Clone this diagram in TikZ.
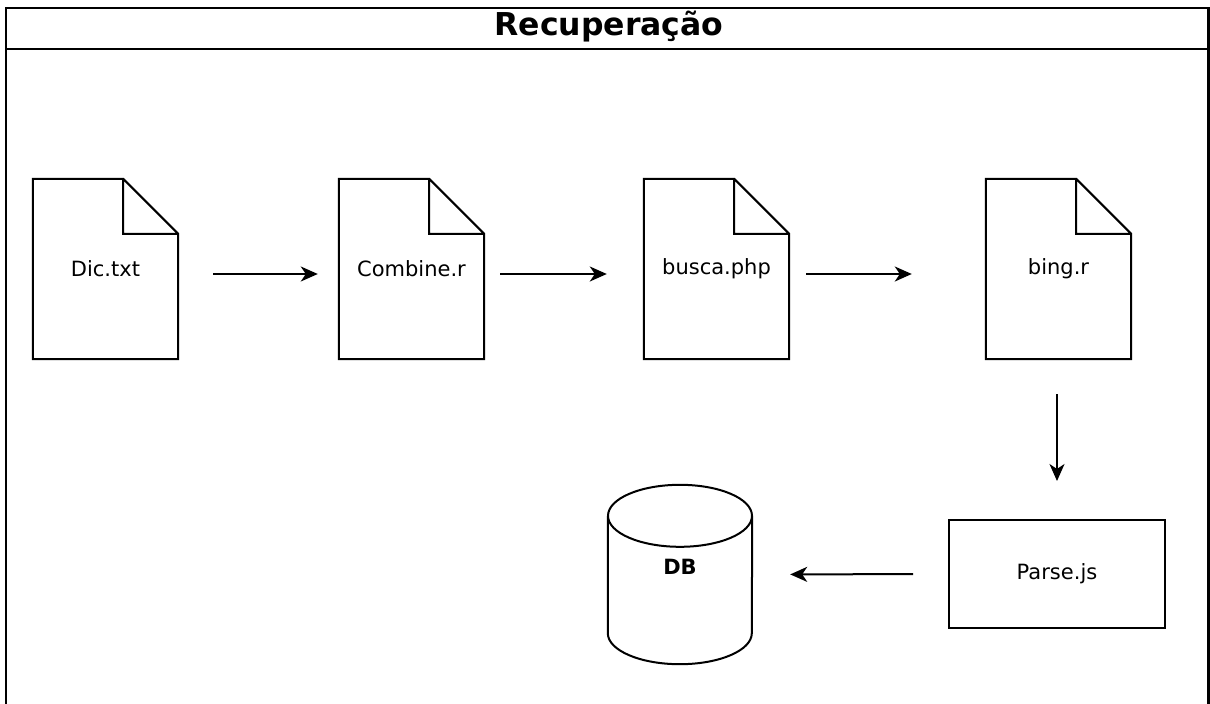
\documentclass[tikz,border=0pt]{standalone}
\usepackage{fontspec}
\setmainfont{DejaVu Sans}
\usetikzlibrary{arrows.meta}

\begin{document}
\begin{tikzpicture}[x=1pt, y=-1pt,
	outline/.style={line width=2pt, black},
	docfile/.style={minimum width=145pt, minimum height=180pt, inner sep=0pt, font=\fontsize{21}{25}\selectfont},
	procbox/.style={draw, outline, minimum width=216pt, minimum height=108pt, inner sep=0pt, font=\fontsize{21}{25}\selectfont},
	dbnode/.style={minimum width=144pt, minimum height=179pt, inner sep=0pt},
	flow/.style={line width=2pt, -{Stealth[length=17pt, width=15pt, inset=5pt]}}]
\useasboundingbox (0,0) rectangle (1210,704);
\clip (0,0) rectangle (1210,704);

\draw[outline, line width=2.2pt] (6,8) rectangle (1208.5,730);
\draw[outline, line width=2.2pt] (6,49) -- (1208.5,49);
\node[font=\fontsize{31.5}{36}\selectfont\bfseries] (title) at (609,27) {Recuperação};

\node[docfile] (dic) at (105.5,269) {Dic.txt};
\node[docfile] (combine) at (411.5,269) {Combine.r};
\node[docfile] (busca) at (716.5,269) {busca.php};
\node[docfile] (bing) at (1058.5,269) {bing.r};

\foreach \n in {dic, combine, busca, bing}
	\draw[outline, line join=miter] (\n.south west) -- (\n.north west) -- ([xshift=-55pt]\n.north east)
		-- ([yshift=-55pt]\n.north east) -- (\n.south east) -- cycle
		([xshift=-55pt]\n.north east) |- ([yshift=-55pt]\n.north east);

\node[procbox] (parse) at (1057,574) {Parse.js};

\node[dbnode] (db) at (680,574.5) {};
\draw[outline] ([yshift=-31pt]db.north) ellipse [x radius=72pt, y radius=31pt];
\draw[outline] ([yshift=-31pt]db.north west) -- ([yshift=31pt]db.south west)
	arc [start angle=180, end angle=360, x radius=72pt, y radius=31pt]
	-- ([yshift=-31pt]db.north east);
\node[font=\fontsize{21}{25}\selectfont\bfseries] (dblabel) at (680,567) {DB};

\draw[flow, shorten <=35pt, shorten >=21pt] ([yshift=-5pt]dic.east) -- ([yshift=-5pt]combine.west);
\draw[flow, shorten <=16pt, shorten >=37pt] ([yshift=-5pt]combine.east) -- ([yshift=-5pt]busca.west);
\draw[flow, shorten <=17pt, shorten >=74pt] ([yshift=-5pt]busca.east) -- ([yshift=-5pt]bing.west);
\draw[flow, shorten <=35pt, shorten >=38pt] (bing.south -| parse.north) -- (parse.north);
\draw[flow, shorten <=35pt, shorten >=38pt] (parse.west) -- (db.east);

\end{tikzpicture}
\end{document}
